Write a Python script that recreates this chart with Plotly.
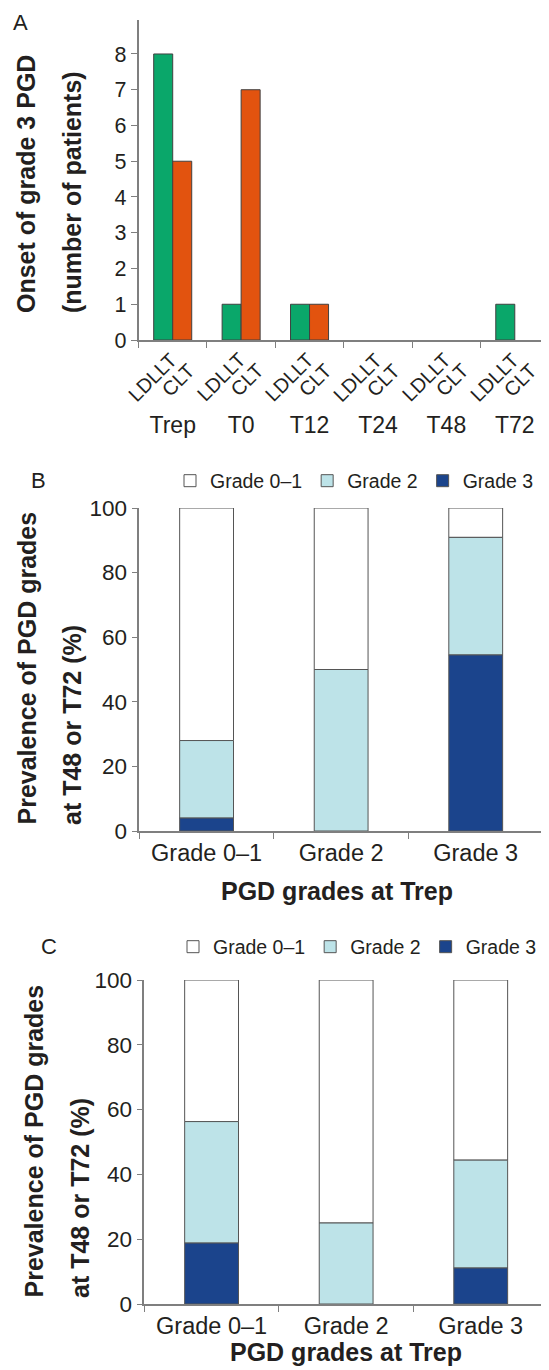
import plotly.graph_objects as go

# ---------------- data ----------------
time_points = ["Trep", "T0", "T12", "T24", "T48", "T72"]
ldllt_counts = [8, 1, 1, 0, 0, 1]
clt_counts = [5, 7, 1, 0, 0, 0]

trep_grades = ["Grade 0–1", "Grade 2", "Grade 3"]
b_grade01 = [72, 50, 9.1]
b_grade2 = [24, 50, 36.4]
b_grade3 = [4, 0, 54.5]

c_grade01 = [43.7, 75, 55.6]
c_grade2 = [37.5, 25, 33.3]
c_grade3 = [18.8, 0, 11.1]

series_names = ["Grade 0–1", "Grade 2", "Grade 3"]

# ---------------- style ----------------
# the page body has an 8px margin, so the figure is sized to end at the window edge
OFF = 8
W, H = 549 - OFF, 1370 - OFF
FONT = "Liberation Sans, Arial, Helvetica, sans-serif"
TXT = "#231f20"
AX = "#7f7f7f"
GREEN = "#0aa76a"
ORANGE = "#e2530f"
WHITE = "#ffffff"
LIGHT = "#bde3e8"
DARK = "#1b448c"
OUTLINE = "#404040"


def px(x):
    # page pixel -> paper fraction
    return (x - OFF) / W


def py(y):
    return 1 - (y - OFF) / H


def line_widths(vals, w):
    # no outline on zero-height bars
    return [w if v > 0 else 0 for v in vals]


fig = go.Figure()

# ---------- Panel A ----------
fig.add_trace(go.Bar(x=time_points, y=ldllt_counts, name="LDLLT", xaxis="x", yaxis="y",
                     marker=dict(color=GREEN, line=dict(color=OUTLINE, width=line_widths(ldllt_counts, 1))),
                     offset=-0.278, width=0.278, showlegend=False))
fig.add_trace(go.Bar(x=time_points, y=clt_counts, name="CLT", xaxis="x", yaxis="y",
                     marker=dict(color=ORANGE, line=dict(color=OUTLINE, width=line_widths(clt_counts, 1))),
                     offset=0.0, width=0.278, showlegend=False))


def stacked(xa, ya, legend, g01, g2, g3):
    base2 = list(g3)
    base01 = [a + b for a, b in zip(g3, g2)]
    specs = [(series_names[0], g01, base01, WHITE),
             (series_names[1], g2, base2, LIGHT),
             (series_names[2], g3, [0] * len(g3), DARK)]
    for name, vals, base, col in specs:
        fig.add_trace(go.Bar(x=trep_grades, y=vals, base=base, name=name,
                             xaxis=xa, yaxis=ya, legend=legend,
                             marker=dict(color=col, line=dict(color="#555555",
                                                              width=line_widths(vals, 1))),
                             offset=-0.2, width=0.4))


stacked("x2", "y2", "legend", b_grade01, b_grade2, b_grade3)
stacked("x3", "y3", "legend2", c_grade01, c_grade2, c_grade3)

common_x = dict(type="category", showline=True, linecolor=AX, linewidth=1.5,
                ticks="outside", ticklen=6, tickcolor=AX, tickwidth=1.2,
                tickson="boundaries", showgrid=False, zeroline=False, automargin=False,
                tickfont=dict(family=FONT, size=23.5, color=TXT))
common_y = dict(showline=True, linecolor=AX, linewidth=1.5, ticks="outside",
                ticklen=6, tickcolor=AX, tickwidth=1.2, showgrid=False, zeroline=False,
                automargin=False)

legend_common = dict(orientation="h", xanchor="left", yanchor="middle",
                     font=dict(family=FONT, size=19.5, color=TXT), bgcolor="rgba(0,0,0,0)",
                     itemwidth=30, traceorder="normal", itemclick=False, itemdoubleclick=False)

fig.update_layout(
    template="none",
    width=W, height=H, margin=dict(l=0, r=0, t=0, b=0, autoexpand=False),
    paper_bgcolor="white", plot_bgcolor="white",
    barmode="overlay",
    font=dict(family=FONT, color=TXT),
    xaxis=dict(common_x, domain=[px(138.5), 1.0], anchor="y", range=[-0.5, 5.5],
               categoryorder="array", categoryarray=time_points,
               tickfont=dict(family=FONT, size=23, color=TXT), ticklabelstandoff=64),
    yaxis=dict(common_y, domain=[py(340), py(20)], anchor="x", range=[0, 8.95],
               tickvals=[0, 1, 2, 3, 4, 5, 6, 7, 8],
               tickfont=dict(family=FONT, size=21.5, color=TXT)),
    xaxis2=dict(common_x, domain=[px(139.3), px(543)], anchor="y2", range=[-0.5, 2.5],
                categoryorder="array", categoryarray=trep_grades),
    yaxis2=dict(common_y, domain=[py(831), py(508)], anchor="x2", range=[0, 100],
                tickvals=[0, 20, 40, 60, 80, 100],
                tickfont=dict(family=FONT, size=22.5, color=TXT)),
    xaxis3=dict(common_x, domain=[px(144.3), px(548)], anchor="y3", range=[-0.5, 2.5],
                categoryorder="array", categoryarray=trep_grades),
    yaxis3=dict(common_y, domain=[py(1304), py(980)], anchor="x3", range=[0, 100],
                tickvals=[0, 20, 40, 60, 80, 100],
                tickfont=dict(family=FONT, size=22.5, color=TXT)),
    legend=dict(legend_common, x=px(170), y=py(481)),
    legend2=dict(legend_common, x=px(173), y=py(947)),
)

ann = []
# sub-category labels (LDLLT / CLT) under each group
for tp in time_points:
    ann.append(dict(text="LDLLT", x=tp, xref="x", y=py(377), yref="paper",
                    xshift=-20, textangle=-45, showarrow=False,
                    xanchor="center", yanchor="middle",
                    font=dict(family=FONT, size=20, color=TXT)))
    ann.append(dict(text="CLT", x=tp, xref="x", y=py(380), yref="paper",
                    xshift=5.5, textangle=-45, showarrow=False,
                    xanchor="center", yanchor="middle",
                    font=dict(family=FONT, size=20, color=TXT)))

# panel letters
for letter, x, y in [("A", 20, 22.5), ("B", 38, 480.5), ("C", 49, 946.7)]:
    ann.append(dict(text=letter, x=px(x), y=py(y), xref="paper", yref="paper",
                    showarrow=False, xanchor="center", yanchor="middle",
                    font=dict(family=FONT, size=22, color=TXT)))

# y-axis titles (two lines each, start-aligned at bottom)
ytitles = [
    ("Onset of grade 3 PGD", "(number of patients)", 26, 72, 315),
    ("Prevalence of PGD grades", "at T48 or T72 (%)", 26, 72, 827),
    ("Prevalence of PGD grades", "at T48 or T72 (%)", 33, 80, 1300),
]
for l1, l2, x1, x2, yb in ytitles:
    for t, xx in [(l1, x1), (l2, x2)]:
        ann.append(dict(text="<b>" + t + "</b>", x=px(xx), y=py(yb), xref="paper", yref="paper",
                        textangle=-90, showarrow=False, xanchor="center", yanchor="bottom",
                        font=dict(family=FONT, size=25, color=TXT)))

# x-axis titles
for xc, yc in [(337, 891), (346, 1352)]:
    ann.append(dict(text="<b>PGD grades at Trep</b>", x=px(xc), y=py(yc), xref="paper", yref="paper",
                    showarrow=False, xanchor="center", yanchor="middle",
                    font=dict(family=FONT, size=25, color=TXT)))

fig.update_layout(annotations=ann)
fig.write_html("out.html")
